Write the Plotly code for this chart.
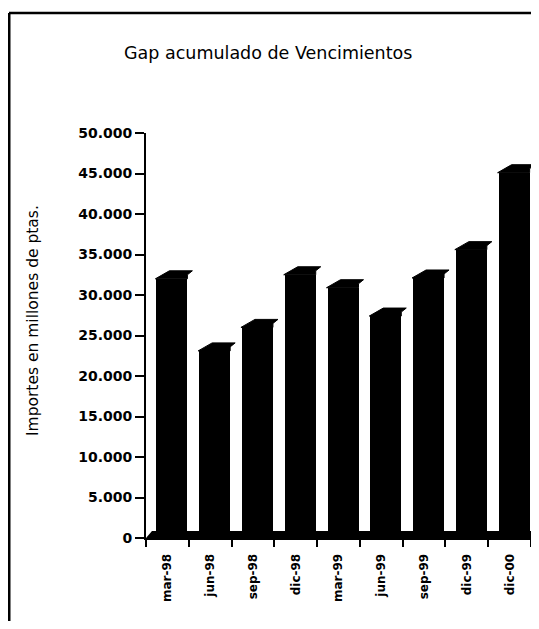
import plotly.graph_objects as go

# ---- data ----
categories = ["mar-98", "jun-98", "sep-98", "dic-98", "mar-99", "jun-99", "sep-99", "dic-99", "dic-00"]
gap_values = [32000, 23100, 26000, 32500, 30900, 27400, 32100, 35600, 45100]
title_text = "Gap acumulado de Vencimientos"
y_title_text = "Importes en millones de ptas."

# ---- geometry (page body has an 8px margin, so the figure is offset) ----
OFF = 8
W, H = 539 - 2 * OFF, 629 - 2 * OFF
L = 146 - OFF
T = 133 - OFF
R = W - (531 - OFF)
B = H - (538 - OFF)
plot_w = W - L - R
plot_h = H - T - B
n = len(categories)
px_x = n / plot_w
px_y = 50000 / plot_h


def px(wx):
    return (wx - OFF - L) / plot_w


def py(wy):
    return (H - B - (wy - OFF)) / plot_h


xs = list(range(n))
bar_off = -11 * px_x
bar_w = 31 * px_x

# roofs of the 3D columns, derived from each value
rx, ry = [], []
for i, v in zip(xs, gap_values):
    fl = i + bar_off
    fr = fl + bar_w
    rx += [fl - 1 * px_x, fl + 13 * px_x, fr + 5 * px_x, fr, fr, fl - 1 * px_x, None]
    ry += [v, v + 8 * px_y, v + 8 * px_y, v + 4 * px_y, v, v, None]

fig = go.Figure()
fig.add_trace(go.Bar(
    x=xs, y=gap_values, width=bar_w, offset=bar_off,
    marker=dict(color="black", line=dict(width=0)),
    hoverinfo="skip", showlegend=False,
))
fig.add_trace(go.Scatter(
    x=rx, y=ry, mode="lines", fill="toself", fillcolor="black",
    line=dict(color="black", width=1), hoverinfo="skip", showlegend=False,
    cliponaxis=False,
))

font_fam = "'DejaVu Sans', sans-serif"

fig.update_layout(
    width=W, height=H,
    margin=dict(l=L, r=R, t=T, b=B, pad=0),
    paper_bgcolor="white", plot_bgcolor="white",
    separators=",.",
    bargap=0,
    font=dict(family=font_fam, color="black"),
    xaxis=dict(
        range=[-0.5, n - 0.5],
        tickmode="array", tickvals=xs, ticktext=categories,
        ticks="outside", ticklen=9, tickcolor="rgba(0,0,0,0)",
        tickangle=-90,
        tickfont=dict(size=12, family=font_fam, weight="bold"),
        showline=True, linecolor="black", linewidth=2,
        showgrid=False, zeroline=False,
        minor=dict(tickmode="array", tickvals=[i - 0.5 for i in range(n + 1)],
                   ticks="outside", ticklen=7, tickwidth=2, tickcolor="black",
                   showgrid=False),
    ),
    yaxis=dict(
        range=[0, 50000], tickmode="linear", tick0=0, dtick=5000,
        tickformat=",d",
        ticks="outside", ticklen=9, tickwidth=2, tickcolor="black",
        tickfont=dict(size=14, family=font_fam, weight="bold"),
        showline=True, linecolor="black", linewidth=2,
        showgrid=False, zeroline=False,
    ),
    shapes=[
        # floor of the 3D chart
        dict(type="path", xref="x", yref="y",
             path=f"M -0.5 0 L {-0.5 + 6 * px_x} {7 * px_y} L {n - 0.5} {7 * px_y} L {n - 0.5} 0 Z",
             fillcolor="black", line=dict(width=0), layer="above"),
        # outer frame
        dict(type="line", xref="paper", yref="paper",
             x0=px(9), x1=px(540), y0=py(13), y1=py(13),
             line=dict(color="black", width=2.5)),
        dict(type="line", xref="paper", yref="paper",
             x0=px(9), x1=px(9), y0=py(13), y1=py(640),
             line=dict(color="black", width=3)),
    ],
    annotations=[
        dict(text=title_text, xref="paper", yref="paper",
             x=px(268), y=py(53),
             xanchor="center", yanchor="middle", showarrow=False,
             font=dict(size=17.5, family=font_fam)),
        dict(text=y_title_text, xref="paper", yref="paper",
             x=px(33), y=py(321),
             xanchor="center", yanchor="middle", showarrow=False, textangle=-90,
             font=dict(size=15.5, family=font_fam)),
    ],
)

fig.write_html("out.html")
